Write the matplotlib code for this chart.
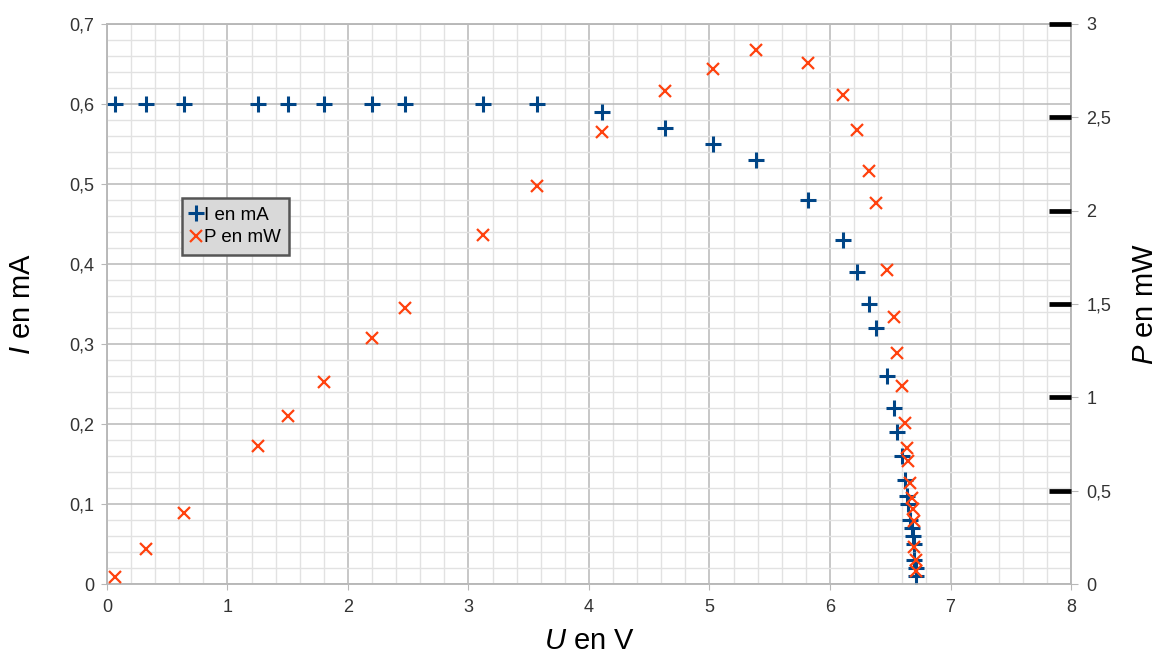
import matplotlib
matplotlib.use("Agg")
import matplotlib.pyplot as plt
from matplotlib.ticker import MultipleLocator, FixedLocator, FuncFormatter

# tension U (V), courant I (mA), puissance P (mW)
U = [0.07, 0.32, 0.64, 1.25, 1.50, 1.80, 2.20, 2.47, 3.12, 3.57,
     4.11, 4.63, 5.03, 5.39, 5.82, 6.11, 6.22, 6.32, 6.38, 6.47,
     6.53, 6.56, 6.60, 6.62, 6.64, 6.65, 6.66, 6.68, 6.69, 6.70,
     6.70, 6.71, 6.71]
I = [0.60, 0.60, 0.60, 0.60, 0.60, 0.60, 0.60, 0.60, 0.60, 0.60,
     0.59, 0.57, 0.55, 0.53, 0.48, 0.43, 0.39, 0.35, 0.32, 0.26,
     0.22, 0.19, 0.16, 0.13, 0.11, 0.10, 0.08, 0.07, 0.06, 0.05,
     0.03, 0.02, 0.01]
P = [0.04, 0.19, 0.38, 0.74, 0.90, 1.08, 1.32, 1.48, 1.87, 2.13,
     2.42, 2.64, 2.76, 2.86, 2.79, 2.62, 2.43, 2.21, 2.04, 1.68,
     1.43, 1.24, 1.06, 0.86, 0.73, 0.66, 0.54, 0.46, 0.40, 0.34,
     0.20, 0.13, 0.07]
P_MARKS = [0.5, 1, 1.5, 2, 2.5, 3]   # repères noirs de l'axe de droite

BLUE = "#004586"
ORANGE = "#ff420e"
GRID_MAJ = "#b8b8b8"
GRID_MIN = "#e2e2e2"

plt.rcParams["font.family"] = ["Liberation Sans", "DejaVu Sans"]
plt.rcParams["mathtext.fontset"] = "custom"
plt.rcParams["mathtext.it"] = "Liberation Sans:italic"
plt.rcParams["mathtext.rm"] = "Liberation Sans"


def comma(v, pos):
    return f"{v:g}".replace(".", ",")


fig = plt.figure(figsize=(11.6, 6.59), dpi=100)
ax = fig.add_axes([0.0922, 0.1138, 0.8311, 0.8498])
ax2 = ax.twinx()

h1, = ax.plot(U, I, ls="none", marker="+", ms=11, mew=2.2, color=BLUE,
              label="I en mA")
h2, = ax2.plot(U, P, ls="none", marker="x", ms=8, mew=1.6, color=ORANGE,
               label="P en mW")

ax.set_xlim(0, 8)
ax.set_ylim(0, 0.7)
ax2.set_ylim(0, 3)

ax.xaxis.set_major_locator(MultipleLocator(1))
ax.xaxis.set_minor_locator(MultipleLocator(0.2))
ax.yaxis.set_major_locator(MultipleLocator(0.1))
ax.yaxis.set_minor_locator(MultipleLocator(0.02))
ax2.yaxis.set_major_locator(MultipleLocator(0.5))
ax2.yaxis.set_minor_locator(FixedLocator(P_MARKS))
ax2.yaxis.remove_overlapping_locs = False
ax.yaxis.set_major_formatter(FuncFormatter(comma))
ax2.yaxis.set_major_formatter(FuncFormatter(comma))

ax.grid(which="major", color=GRID_MAJ, lw=1.1)
ax.grid(which="minor", color=GRID_MIN, lw=1.0)
ax.set_axisbelow(True)

for a in (ax, ax2):
    for s in a.spines.values():
        s.set_color(GRID_MAJ)
        s.set_linewidth(1.1)
        s.set_zorder(1)

ax.tick_params(which="major", length=4, color=GRID_MAJ, labelsize=13,
               labelcolor="#333333", pad=5)
ax.tick_params(which="minor", length=0)
ax.tick_params(axis="x", pad=7)
ax2.tick_params(axis="y", which="major", length=5, color=GRID_MAJ,
                labelsize=13, labelcolor="#333333", pad=6)
ax2.tick_params(axis="y", which="minor", direction="in", length=16,
                width=3.4, color="black")
ax2.yaxis.set_zorder(3)

ax.set_xlabel("$\\it{U}$ en V", fontsize=21, labelpad=8)
ax.set_ylabel("$\\it{I}$ en mA", fontsize=21, labelpad=24)
ax2.set_ylabel("$\\it{P}$ en mW", fontsize=21, labelpad=14)

leg = ax2.legend(handles=[h1, h2], loc="upper left",
                 bbox_to_anchor=(0.078, 0.689), fontsize=13.5,
                 frameon=True, fancybox=False, handlelength=0.6,
                 handletextpad=0.1, borderpad=0.45, labelspacing=0.3,
                 borderaxespad=0)
frame = leg.get_frame()
frame.set_facecolor("#d9d9d9")
frame.set_edgecolor("#555555")
frame.set_linewidth(1.8)
frame.set_alpha(1)

fig.savefig("out.png", dpi=100)
